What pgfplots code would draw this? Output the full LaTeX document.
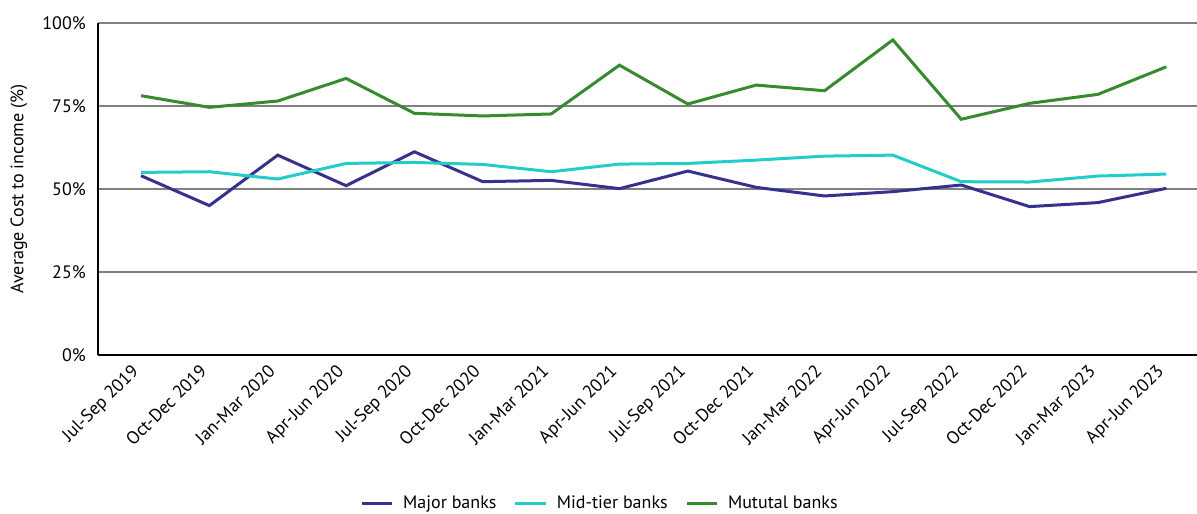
\documentclass[border=0pt]{standalone}
\usepackage{fontspec}
\setmainfont{PT Sans}
\usepackage{pgfplots}
\pgfplotsset{compat=1.18}
\definecolor{major}{HTML}{35318C}
\definecolor{mid}{HTML}{22CCC8}
\definecolor{mutual}{HTML}{378A2E}
\begin{document}
\fontsize{13.5}{16}\selectfont
\begin{tikzpicture}
\begin{axis}[
  width=824.25pt, height=249pt, scale only axis,
  xmin=-0.63, xmax=15.45, ymin=0, ymax=100,
  axis x line*=bottom, axis y line*=left,
  axis line style={black, line width=1.8pt},
  ytick={0,25,50,75,100},
  yticklabels={0\%,25\%,50\%,75\%,100\%},
  ymajorgrids, grid style={color=black!50, line width=1.5pt},
  major tick length=0pt,
  xtick={0,...,15},
  xticklabels={Jul-Sep 2019,Oct-Dec 2019,Jan-Mar 2020,Apr-Jun 2020,Jul-Sep 2020,Oct-Dec 2020,Jan-Mar 2021,Apr-Jun 2021,Jul-Sep 2021,Oct-Dec 2021,Jan-Mar 2022,Apr-Jun 2022,Jul-Sep 2022,Oct-Dec 2022,Jan-Mar 2023,Apr-Jun 2023},
  xticklabel style={xshift=-8pt, yshift=-3pt, rotate=45, anchor=north east, inner sep=2pt},
  yticklabel style={inner sep=2pt, xshift=-7pt},
  ylabel={Average Cost to income (\%)},
  ylabel style={at={(axis description cs:-0.072,0.5)}, anchor=center},
  legend style={at={(0.457,-0.446)}, anchor=center, draw=none, fill=none,
    legend columns=3,
    /tikz/every even column/.append style={column sep=11pt},
    /tikz/every odd column/.append style={column sep=5pt}},
  legend image code/.code={\draw[#1, line width=2.25pt] (0pt,0pt) -- (23pt,0pt);},
  every axis plot/.append style={line width=2.25pt, mark=none},
]
\addplot[major] coordinates {(0,54.0)(1,45.0)(2,60.2)(3,51.0)(4,61.2)(5,52.2)(6,52.6)(7,50.1)(8,55.4)(9,50.5)(10,47.9)(11,49.2)(12,51.2)(13,44.7)(14,45.9)(15,50.2)};
\addlegendentry{Major banks}
\addplot[mid] coordinates {(0,55.0)(1,55.2)(2,53.0)(3,57.7)(4,58.0)(5,57.4)(6,55.2)(7,57.5)(8,57.7)(9,58.7)(10,59.9)(11,60.2)(12,52.2)(13,52.1)(14,53.9)(15,54.5)};
\addlegendentry{Mid-tier banks}
\addplot[mutual] coordinates {(0,78.1)(1,74.6)(2,76.5)(3,83.3)(4,72.8)(5,72.0)(6,72.6)(7,87.3)(8,75.6)(9,81.3)(10,79.6)(11,94.9)(12,71.0)(13,75.8)(14,78.5)(15,86.8)};
\addlegendentry{Mututal banks}
\end{axis}
\pgfresetboundingbox
\path[use as bounding box] ([shift={(-73.5pt,-119.25pt)}]current axis.south west) rectangle ([shift={(0pt,17.25pt)}]current axis.north east);
\end{tikzpicture}
\end{document}
